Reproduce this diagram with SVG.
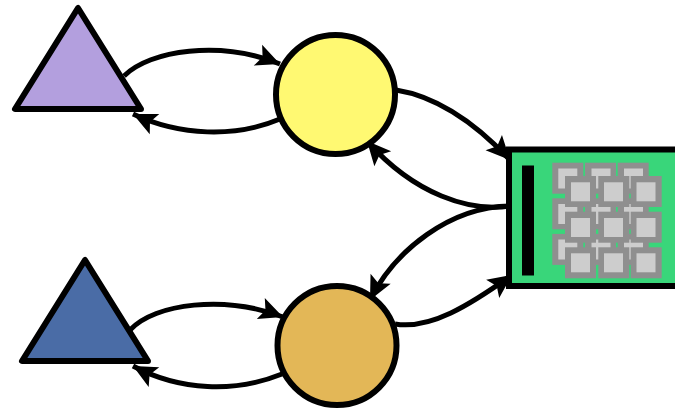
<svg xmlns="http://www.w3.org/2000/svg" width="675" height="409" viewBox="0 0 675 409">
<style>
.tri,.cir,.box{stroke:#000;stroke-width:6;stroke-linejoin:round}
.box{stroke-linejoin:miter}
.edge{fill:none;stroke:#000;stroke-width:5;marker-end:url(#arrow)}
.g{fill:#8f8f8f}
.l{fill:#cdcdcd}
</style>
<defs>
<marker id="arrow" markerUnits="userSpaceOnUse" markerWidth="30" markerHeight="25" refX="20" refY="10" orient="auto" viewBox="0 0 24 20">
<path d="M20,10 L1,1 L5,10 L1,19 Z" fill="#000"/>
</marker>
</defs>
<g id="connectors">
<path class="edge" d="M124,76 C150,50 220,40 280,64"/>
<path class="edge" d="M280,119 C235,138 180,136 133,114"/>
<path class="edge" d="M396,90 C440,97 480,128 510,160"/>
<path class="edge" d="M510,206 C470,212 415,195 367,141"/>
<path class="edge" d="M510,206 C450,207 395,250 370,300"/>
<path class="edge" d="M395,324 C430,330 470,305 512,275"/>
<path class="edge" d="M130,330 C155,303 225,295 283,317"/>
<path class="edge" d="M282,374 C235,393 180,391 133,366"/>
</g>
<g id="triangle-purple"><polygon class="tri" points="78,8 15,109 141,109" fill="#b39fde"/></g>
<g id="triangle-blue"><polygon class="tri" points="85,260 22,361 148,361" fill="#4a6ca6"/></g>
<g id="circle-yellow"><circle class="cir" cx="335.5" cy="94.5" r="59.5" fill="#fff972"/></g>
<g id="circle-orange"><circle class="cir" cx="337" cy="345.5" r="59.5" fill="#e3b757"/></g>
<g id="device">
<rect class="box" x="509" y="149.5" width="175" height="136.5" fill="#39d67a"/>
<rect x="522" y="165.5" width="12" height="110" fill="#000"/>
<g class="g">
<rect x="552.3" y="162.7" width="31" height="31"/><rect x="585" y="162.7" width="31" height="31"/><rect x="617.7" y="162.7" width="31" height="31"/>
<rect x="552.3" y="198.3" width="31" height="31"/><rect x="585" y="198.3" width="31" height="31"/><rect x="617.7" y="198.3" width="31" height="31"/>
<rect x="552.3" y="233.9" width="31" height="31"/><rect x="585" y="233.9" width="31" height="31"/><rect x="617.7" y="233.9" width="31" height="31"/>
</g>
<g class="l">
<rect x="558.3" y="168.5" width="19" height="20"/><rect x="591.5" y="168.5" width="19" height="20"/><rect x="624" y="168.5" width="19" height="20"/>
<rect x="558.3" y="204" width="19" height="20"/><rect x="591.5" y="204" width="19" height="20"/><rect x="624" y="204" width="19" height="20"/>
<rect x="558.3" y="239.5" width="19" height="20"/><rect x="591.5" y="239.5" width="19" height="20"/><rect x="624" y="239.5" width="19" height="20"/>
</g>
<g class="g">
<rect x="565" y="176" width="31" height="31"/><rect x="598.3" y="176" width="31" height="31"/><rect x="630.7" y="176" width="31" height="31"/>
<rect x="565" y="211.7" width="31" height="31"/><rect x="598.3" y="211.7" width="31" height="31"/><rect x="630.7" y="211.7" width="31" height="31"/>
<rect x="565" y="247.3" width="31" height="31"/><rect x="598.3" y="247.3" width="31" height="31"/><rect x="630.7" y="247.3" width="31" height="31"/>
</g>
<g class="l">
<rect x="571" y="182.3" width="19" height="19"/><rect x="604" y="182.3" width="19" height="19"/><rect x="636.5" y="182.3" width="19" height="19"/>
<rect x="571" y="218" width="19" height="19"/><rect x="604" y="218" width="19" height="19"/><rect x="636.5" y="218" width="19" height="19"/>
<rect x="571" y="253.3" width="19" height="19"/><rect x="604" y="253.3" width="19" height="19"/><rect x="636.5" y="253.3" width="19" height="19"/>
</g>
</g>
</svg>
